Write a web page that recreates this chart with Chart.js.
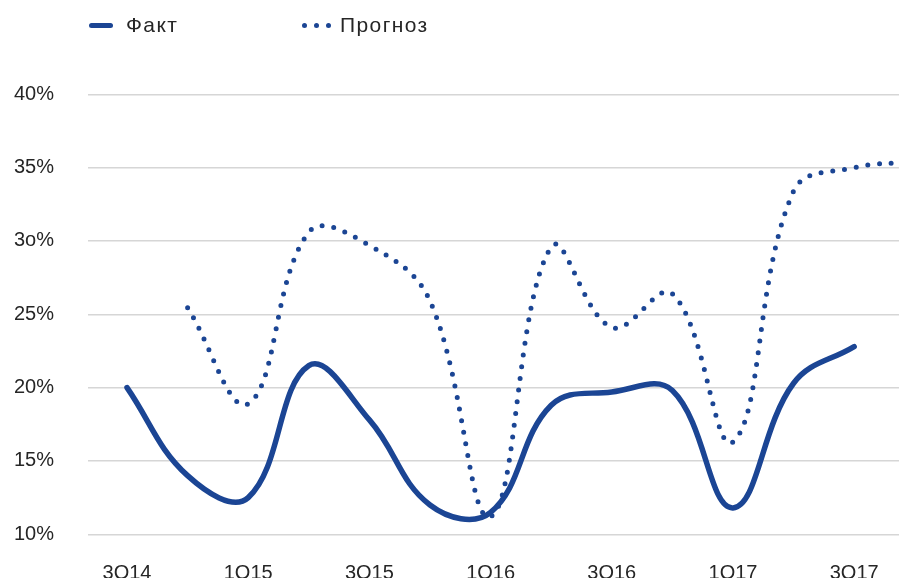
<!DOCTYPE html>
<html>
<head>
<meta charset="utf-8">
<script src="https://cdn.jsdelivr.net/npm/chart.js@4/dist/chart.umd.min.js"></script>
<style>
  html, body { margin: 0; padding: 0; background: #fff; overflow: hidden; }
  #wrap { position: relative; width: 899px; height: 578px; }
  #c { position: absolute; left: 0; top: 0; }
  .leg { position: absolute; font-family: "Liberation Sans", Arial, sans-serif; font-size: 21px;
         color: #262626; letter-spacing: 1.4px; line-height: 24px; }
  .sw-line { position: absolute; left: 89px; top: 23px; width: 24px; height: 5px; border-radius: 3px; background: #1b4594; }
  .dot { position: absolute; top: 23px; width: 5px; height: 5px; border-radius: 50%; background: #1b4594; }
</style>
</head>
<body>
<div id="wrap">
  <canvas id="c" width="899" height="578"></canvas>
  <div class="sw-line"></div>
  <div class="leg" id="lab1" style="left:126px; top:13px;"></div>
  <div class="dot" style="left:302px;"></div>
  <div class="dot" style="left:314px;"></div>
  <div class="dot" style="left:326px;"></div>
  <div class="leg" id="lab2" style="left:340px; top:13px;"></div>
</div>
<script>
// кварталы (подписи только у каждого второго)
var quarters = ['3Q14', '4Q14', '1Q15', '2Q15', '3Q15', '4Q15', '1Q16', '2Q16', '3Q16', '4Q16', '1Q17', '2Q17', '3Q17', '4Q17'];
var seriesNames = ['Факт', 'Прогноз'];

// значения, %
var fact     = [20.0, 14.0, 12.5, 21.5, 17.8, 12.0, 11.5, 18.8, 19.7, 19.8, 11.8, 20.3, 22.8, null];
var forecast = [null, 25.45, 18.9, 30.6, 29.7, 25.9, 11.2, 29.6, 24.1, 26.4, 16.3, 33.4, 35.0, 35.4];

// шкалы
var xTickIdx = [0, 2, 4, 6, 8, 10, 12];
var yTickVals = [10, 15, 20, 25, 30, 35, 40];
var yTickLabels = ['10%', '15%', '20%', '25%', '3o%', '35%', '40%'];

var blue = '#1b4594';
var textColor = '#262626';
var font = { family: '"Liberation Sans", Arial, sans-serif', size: 20 };

document.getElementById('lab1').textContent = seriesNames[0];
document.getElementById('lab2').textContent = seriesNames[1];

function toPoints(arr) {
    var pts = [];
    arr.forEach(function(v, i) {
        if (v !== null) pts.push({ x: i, y: v });
    });
    return pts;
}

var ctx = document.getElementById('c').getContext('2d');
new Chart(ctx, {
    type: 'line',
    data: {
        datasets: [{
            label: seriesNames[0],
            data: toPoints(fact),
            borderColor: blue,
            borderWidth: 5.5,
            borderCapStyle: 'round',
            borderJoinStyle: 'round',
            tension: 0.4,
            fill: false
        }, {
            label: seriesNames[1],
            data: toPoints(forecast),
            borderColor: blue,
            borderWidth: 5,
            borderDash: [0, 11.8],
            borderCapStyle: 'round',
            tension: 0.4,
            fill: false
        }]
    },
    options: {
        responsive: false,
        animation: false,
        devicePixelRatio: 1,
        layout: { padding: { top: 94.3, left: 14, right: 0, bottom: 0 } },
        plugins: { legend: { display: false }, tooltip: { enabled: false } },
        elements: { point: { radius: 0 } },
        scales: {
            x: {
                type: 'linear',
                min: -0.644,
                max: 12.74,
                grid: { display: false, drawTicks: false },
                border: { display: false },
                afterBuildTicks: function(s) {
                    s.ticks = xTickIdx.map(function(v) { return { value: v }; });
                },
                afterFit: function(s) {
                    s.height = 43.7;
                    s.paddingLeft = 0;
                    s.paddingRight = 0;
                },
                ticks: {
                    padding: 27,
                    maxRotation: 0,
                    autoSkip: false,
                    color: textColor,
                    font: font,
                    callback: function(v) { return quarters[v] || ''; }
                }
            },
            y: {
                min: 10,
                max: 40,
                grid: { color: '#d6d6d6', lineWidth: 1.5, drawTicks: false },
                border: { display: false },
                afterBuildTicks: function(s) {
                    s.ticks = yTickVals.map(function(v) { return { value: v }; });
                },
                afterFit: function(s) {
                    s.width = 74;
                    s.paddingTop = 0;
                    s.paddingBottom = 0;
                },
                ticks: {
                    padding: 34,
                    color: textColor,
                    font: font,
                    callback: function(v, i) { return yTickLabels[i]; }
                }
            }
        }
    }
});
</script>
</body>
</html>
